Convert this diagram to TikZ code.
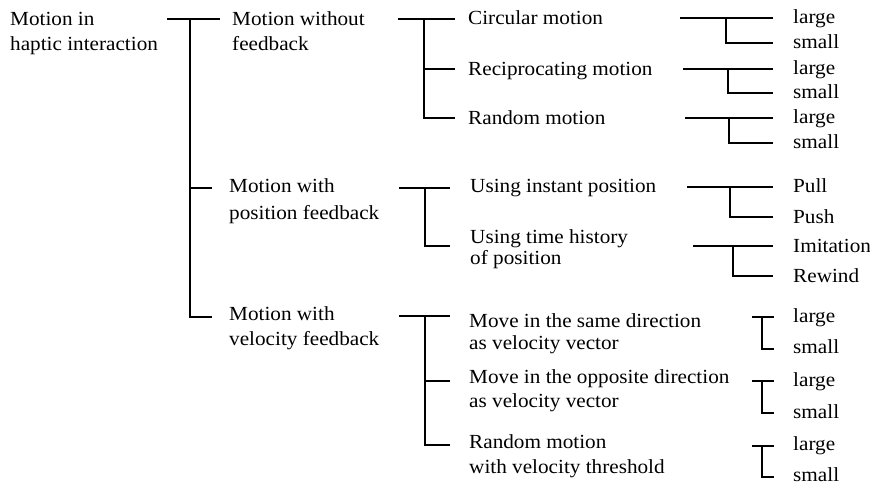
\documentclass[tikz,border=0pt]{standalone}
\usepackage{fontspec}
\setmainfont{Liberation Serif}[FakeStretch=1.06]
\newcommand{\twol}[2]{\fontsize{20}{#1}\selectfont\begin{tabular}[t]{@{}l@{}}#2\end{tabular}}
\begin{document}
\begin{tikzpicture}[x=1pt,y=-1pt,
  lbl/.style={anchor=base west, inner sep=0pt, font=\fontsize{20}{25}\selectfont},
  br/.style={line width=1.9pt, line cap=butt},
  brs/.style={line width=1.4pt}]
\useasboundingbox (0,0) rectangle (870,484);

% ---------- texts ----------
\node[lbl] (root) at (10,26) {\twol{25}{Motion in\\haptic interaction}};

\node[lbl] (a) at (232,26) {\twol{25}{Motion without\\feedback}};
\node[lbl] (b) at (229,193) {\twol{26}{Motion with\\position feedback}};
\node[lbl] (c) at (229,320) {\twol{25}{Motion with\\velocity feedback}};

\node[lbl] (a1) at (468,25) {Circular motion};
\node[lbl] (a2) at (468,76) {Reciprocating motion};
\node[lbl] (a3) at (468,125) {Random motion};
\node[lbl] (b1) at (470,193) {Using instant position};
\node[lbl] (b2) at (470,243) {\twol{21}{Using time history\\of position}};
\node[lbl] (c1) at (469,327) {\twol{22.5}{Move in the same direction\\as velocity vector}};
\node[lbl] (c2) at (469,383) {\twol{24.5}{Move in the opposite direction\\as velocity vector}};
\node[lbl] (c3) at (469,448) {\twol{25}{Random motion\\with velocity threshold}};

\node[lbl] (a1l) at (793,24) {large};
\node[lbl] (a1s) at (793,49) {small};
\node[lbl] (a2l) at (793,75) {large};
\node[lbl] (a2s) at (793,99) {small};
\node[lbl] (a3l) at (793,124) {large};
\node[lbl] (a3s) at (793,149) {small};
\node[lbl] (b1a) at (793,193) {Pull};
\node[lbl] (b1b) at (793,223) {Push};
\node[lbl] (b2a) at (793,252) {Imitation};
\node[lbl] (b2b) at (793,282) {Rewind};
\node[lbl] (c1l) at (793,322) {large};
\node[lbl] (c1s) at (793,353) {small};
\node[lbl] (c2l) at (793,386) {large};
\node[lbl] (c2s) at (793,418) {small};
\node[lbl] (c3l) at (793,450) {large};
\node[lbl] (c3s) at (793,481) {small};

% ---------- bracket coordinates ----------
% root
\coordinate (r-s) at (167,19); \coordinate (r-j) at (190,19);
\coordinate (r-a) at (220,19); \coordinate (r-b) at (212,188); \coordinate (r-c) at (212,317);
% level 1
\coordinate (a-s) at (398,19); \coordinate (a-j) at (424,19);
\coordinate (a-1) at (455,19); \coordinate (a-2) at (455,69); \coordinate (a-3) at (455,118);
\coordinate (b-s) at (399,188); \coordinate (b-j) at (425,188);
\coordinate (b-1) at (450,188); \coordinate (b-2) at (450,246);
\coordinate (c-s) at (399,316); \coordinate (c-j) at (425,316);
\coordinate (c-1) at (450,316); \coordinate (c-2) at (450,381); \coordinate (c-3) at (450,445);
% level 2
\coordinate (a1-s) at (680,18); \coordinate (a1-j) at (726,18); \coordinate (a1-l) at (773,18); \coordinate (a1-m) at (773,43);
\coordinate (a2-s) at (683,69); \coordinate (a2-j) at (728,69); \coordinate (a2-l) at (773,69); \coordinate (a2-m) at (773,93);
\coordinate (a3-s) at (685,118); \coordinate (a3-j) at (729,118); \coordinate (a3-l) at (773,118); \coordinate (a3-m) at (773,143);
\coordinate (b1-s) at (687,187); \coordinate (b1-j) at (730,187); \coordinate (b1-l) at (773,187); \coordinate (b1-m) at (773,217);
\coordinate (b2-s) at (693,246); \coordinate (b2-j) at (733,246); \coordinate (b2-l) at (773,246); \coordinate (b2-m) at (773,276);
\coordinate (c1-s) at (752,317); \coordinate (c1-j) at (762,317); \coordinate (c1-l) at (774,317); \coordinate (c1-m) at (774,349);
\coordinate (c2-s) at (752,381); \coordinate (c2-j) at (762,381); \coordinate (c2-l) at (774,381); \coordinate (c2-m) at (774,413);
\coordinate (c3-s) at (752,446); \coordinate (c3-j) at (762,446); \coordinate (c3-l) at (774,446); \coordinate (c3-m) at (774,477);

% ---------- brackets ----------
\draw[br] (r-s) -- (r-a);
\draw[br] (r-j) |- (r-c);
\draw[brs] (r-j |- r-b) -- (r-b);

\draw[br] (a-s) -- (a-1);
\draw[br] (a-j) |- (a-3);
\draw[brs] (a-j |- a-2) -- (a-2);

\draw[br] (b-s) -- (b-1);
\draw[br] (b-j) |- (b-2);

\draw[br] (c-s) -- (c-1);
\draw[br] (c-j) |- (c-3);
\draw[brs] (c-j |- c-2) -- (c-2);

\foreach \n in {a1,a2,a3,b1,b2,c1,c2,c3}{
  \draw[br] (\n-s) -- (\n-l);
  \draw[br] (\n-j) |- (\n-m);
}
\end{tikzpicture}
\end{document}
